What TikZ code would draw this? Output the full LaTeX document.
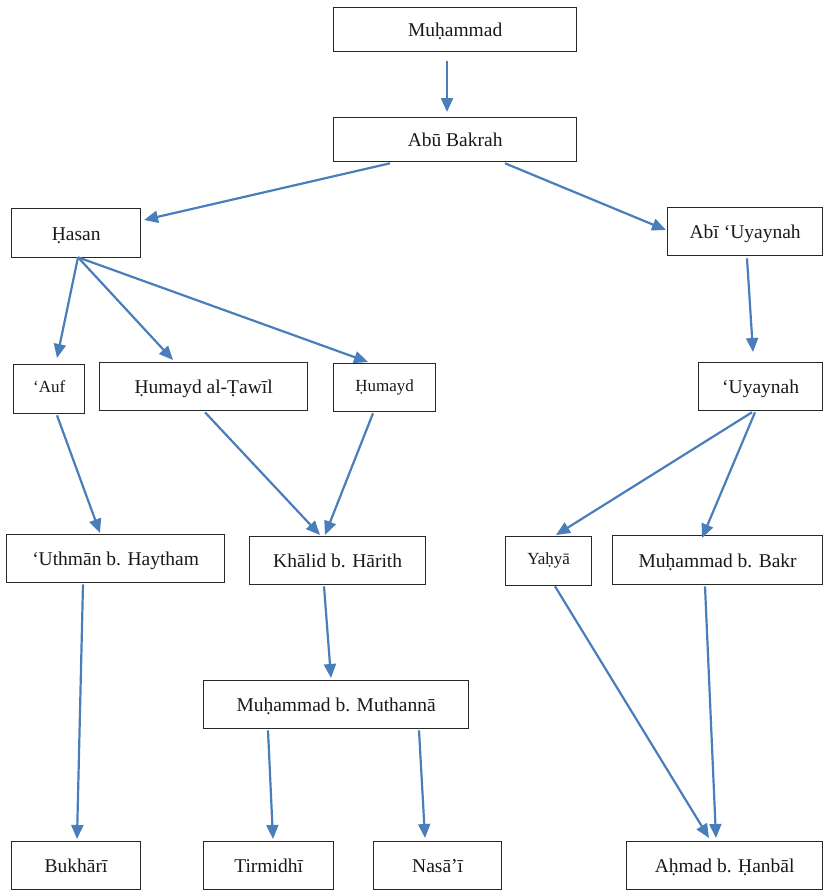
\documentclass[tikz,border=0pt]{standalone}
\usepackage{fontspec}
\setmainfont{Liberation Serif}
\usetikzlibrary{arrows.meta}
\definecolor{arrowblue}{RGB}{74,126,187}
\definecolor{boxline}{RGB}{40,40,40}
\tikzset{
  box/.style={draw=boxline, line width=1.3pt, inner sep=0pt, anchor=north west, font=\fontsize{19.5}{23}\selectfont, text=black!90, text height=17pt, text depth=3pt},
  smallbox/.style={box, font=\fontsize{17}{20}\selectfont, text height=11.5pt, text depth=4.5pt},
  arr/.style={draw=arrowblue, line width=2.2pt, -{Triangle[length=14pt,width=12pt]}}
}
\newcommand\mkbox[7][box]{\node[#1, minimum width={#5-#3}, minimum height={#6-#4}] (#2) at (#3,#4) {#7};}
\begin{document}
\begin{tikzpicture}[x=1pt,y=-1pt]
\useasboundingbox (0,0) rectangle (823,891);
\mkbox{muh}{333}{7}{576}{51}{Muḥammad}
\mkbox{abu}{333}{117}{576}{161}{Abū Bakrah}
\mkbox{hasan}{11}{208}{140}{257}{Ḥasan}
\mkbox{abi}{667}{207}{822}{255}{Abī ‘Uyaynah}
\mkbox[smallbox]{auf}{13}{364}{84}{413}{‘Auf}
\mkbox{hat}{99}{362}{307}{410}{Ḥumayd al-Ṭawīl}
\mkbox[smallbox]{hum}{333}{363}{435}{411}{Ḥumayd}
\mkbox{uy}{698}{362}{822}{410}{‘Uyaynah}
\mkbox{uth}{6}{534}{224}{582}{‘Uthmān b. Haytham}
\mkbox{kha}{249}{536}{425}{584}{Khālid b. Hārith}
\mkbox[smallbox]{yah}{505}{536}{591}{585}{Yaḥyā}
\mkbox{mbk}{612}{535}{822}{584}{Muḥammad b. Bakr}
\mkbox{mmu}{203}{680}{468}{728}{Muḥammad b. Muthannā}
\mkbox{buk}{11}{841}{140}{889}{Bukhārī}
\mkbox{tir}{203}{841}{333}{889}{Tirmidhī}
\mkbox{nas}{373}{841}{501}{889}{Nasā’ī}
\mkbox{ahm}{626}{841}{822}{889}{Aḥmad b. Ḥanbāl}

\draw[arr] ([shift={(114,9)}]muh.south west) -- ([shift={(114,-5)}]abu.north west);
\draw[arr] ([shift={(57,1)}]abu.south west) -- ([shift={(133,12)}]hasan.north west);
\draw[arr] ([shift={(172,1)}]abu.south west) -- ([shift={(-1,23)}]abi.north west);
\draw[arr] ([shift={(80,2)}]abi.south west) -- ([shift={(55,-10)}]uy.north west);
\draw[arr] ([shift={(67,-1)}]hasan.south west) -- ([shift={(44,-6)}]auf.north west);
\draw[arr] ([shift={(67,-1)}]hasan.south west) -- ([shift={(74,-2)}]hat.north west);
\draw[arr] ([shift={(67,-1)}]hasan.south west) -- ([shift={(35,-1)}]hum.north west);
\draw[arr] ([shift={(44,1)}]auf.south west) -- ([shift={(94,-1)}]uth.north west);
\draw[arr] ([shift={(106,1)}]hat.south west) -- ([shift={(71,-1)}]kha.north west);
\draw[arr] ([shift={(40,1)}]hum.south west) -- ([shift={(76,-1)}]kha.north west);
\draw[arr] ([shift={(54,1)}]uy.south west) -- ([shift={(51,-1)}]yah.north west);
\draw[arr] ([shift={(57,1)}]uy.south west) -- ([shift={(90,3)}]mbk.north west);
\draw[arr] ([shift={(77,1)}]uth.south west) -- ([shift={(66,-2)}]buk.north west);
\draw[arr] ([shift={(75,1)}]kha.south west) -- ([shift={(128,-2)}]mmu.north west);
\draw[arr] ([shift={(65,1)}]mmu.south west) -- ([shift={(70,-2)}]tir.north west);
\draw[arr] ([shift={(216,1)}]mmu.south west) -- ([shift={(52,-3)}]nas.north west);
\draw[arr] ([shift={(50,0)}]yah.south west) -- ([shift={(83,-3)}]ahm.north west);
\draw[arr] ([shift={(93,1)}]mbk.south west) -- ([shift={(90,-3)}]ahm.north west);
\end{tikzpicture}
\end{document}
